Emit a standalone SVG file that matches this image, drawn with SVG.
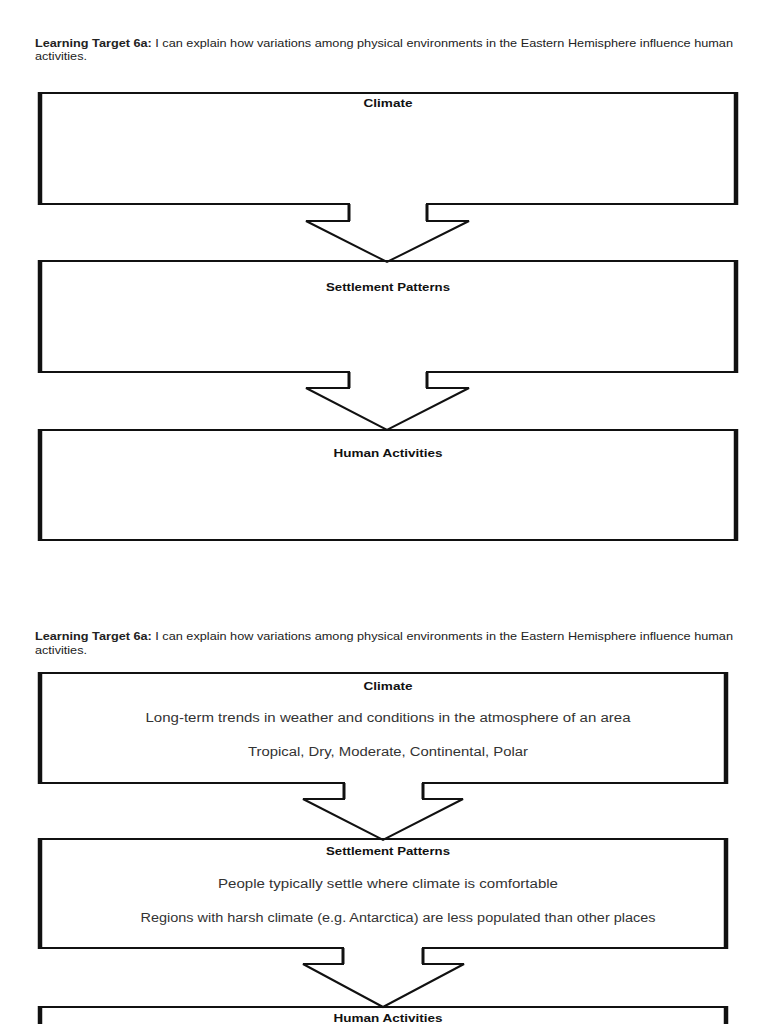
<svg xmlns="http://www.w3.org/2000/svg" width="768" height="1024" viewBox="0 0 768 1024">
<style>
text{font-family:"Liberation Sans",Arial,sans-serif;fill:#222}
.hdr{font-size:11px}
.b{font-weight:bold}
.title{font-size:11.5px;font-weight:bold;text-anchor:middle;fill:#111}
.body{font-size:12.5px;text-anchor:middle;fill:#333}
.box{fill:#fff;stroke:#111;stroke-width:2}
.side{stroke:#111;stroke-width:4.5}
.arr{fill:none;stroke:#111;stroke-width:2;stroke-linejoin:miter}
.notch{stroke:#111;stroke-width:3}
.gap{fill:#fff}
</style>
<rect width="768" height="1024" fill="#fff"/>

<!-- Top worksheet -->
<text class="hdr" x="35" y="47" textLength="698" lengthAdjust="spacingAndGlyphs"><tspan class="b">Learning Target 6a:</tspan> I can explain how variations among physical environments in the Eastern Hemisphere influence human</text>
<text class="hdr" x="35" y="60" textLength="52" lengthAdjust="spacingAndGlyphs">activities.</text>

<g id="climate1">
<rect class="box" x="39" y="93" width="698" height="111"/>
<line class="side" x1="40" y1="92" x2="40" y2="205"/>
<line class="side" x1="736" y1="92" x2="736" y2="205"/>
<text class="title" x="388" y="107" textLength="49" lengthAdjust="spacingAndGlyphs">Climate</text>
</g>
<g id="settlement1">
<rect class="box" x="39" y="261" width="698" height="111"/>
<line class="side" x1="40" y1="260" x2="40" y2="373"/>
<line class="side" x1="736" y1="260" x2="736" y2="373"/>
<text class="title" x="388" y="291" textLength="124" lengthAdjust="spacingAndGlyphs">Settlement Patterns</text>
</g>
<g id="human1">
<rect class="box" x="39" y="430" width="698" height="110"/>
<line class="side" x1="40" y1="429" x2="40" y2="541"/>
<line class="side" x1="736" y1="429" x2="736" y2="541"/>
<text class="title" x="388" y="457" textLength="109" lengthAdjust="spacingAndGlyphs">Human Activities</text>
</g>

<!-- Bottom worksheet -->
<text class="hdr" x="35" y="640" textLength="698" lengthAdjust="spacingAndGlyphs"><tspan class="b">Learning Target 6a:</tspan> I can explain how variations among physical environments in the Eastern Hemisphere influence human</text>
<text class="hdr" x="35" y="654" textLength="52" lengthAdjust="spacingAndGlyphs">activities.</text>

<g id="climate2">
<rect class="box" x="39" y="673" width="688" height="110"/>
<line class="side" x1="40" y1="672" x2="40" y2="784"/>
<line class="side" x1="726" y1="672" x2="726" y2="784"/>
<text class="title" x="388" y="690" textLength="49" lengthAdjust="spacingAndGlyphs">Climate</text>
<text class="body" x="388" y="722" textLength="485" lengthAdjust="spacingAndGlyphs">Long-term trends in weather and conditions in the atmosphere of an area</text>
<text class="body" x="388" y="756" textLength="280" lengthAdjust="spacingAndGlyphs">Tropical, Dry, Moderate, Continental, Polar</text>
</g>
<g id="settlement2">
<rect class="box" x="39" y="839" width="688" height="109"/>
<line class="side" x1="40" y1="838" x2="40" y2="949"/>
<line class="side" x1="726" y1="838" x2="726" y2="949"/>
<text class="title" x="388" y="855" textLength="124" lengthAdjust="spacingAndGlyphs">Settlement Patterns</text>
<text class="body" x="388" y="888" textLength="340" lengthAdjust="spacingAndGlyphs">People typically settle where climate is comfortable</text>
<text class="body" x="398" y="922" textLength="515" lengthAdjust="spacingAndGlyphs">Regions with harsh climate (e.g. Antarctica) are less populated than other places</text>
</g>
<g id="human2">
<rect class="box" x="39" y="1007" width="688" height="40"/>
<line class="side" x1="40" y1="1006" x2="40" y2="1030"/>
<line class="side" x1="726" y1="1006" x2="726" y2="1030"/>
<text class="title" x="388" y="1022" textLength="109" lengthAdjust="spacingAndGlyphs">Human Activities</text>
</g>

<g id="connectors">
<!-- top arrow 1 -->
<rect class="gap" x="350" y="201" width="76" height="8"/>
<path class="arr" d="M349,204 V221 H306 L387,262 L469,221 H427 V204"/>
<line class="notch" x1="349" y1="204" x2="349" y2="221"/>
<line class="notch" x1="427" y1="204" x2="427" y2="221"/>
<!-- top arrow 2 -->
<rect class="gap" x="350" y="369" width="76" height="8"/>
<path class="arr" d="M349,372 V388 H306 L387,430 L469,388 H427 V372"/>
<line class="notch" x1="349" y1="372" x2="349" y2="388"/>
<line class="notch" x1="427" y1="372" x2="427" y2="388"/>
<!-- bottom arrow 1 -->
<rect class="gap" x="345" y="780" width="77" height="8"/>
<path class="arr" d="M344,783 V799 H303 L383,840 L463,799 H423 V783"/>
<line class="notch" x1="344" y1="783" x2="344" y2="799"/>
<line class="notch" x1="423" y1="783" x2="423" y2="799"/>
<!-- bottom arrow 2 -->
<rect class="gap" x="344" y="945" width="78" height="8"/>
<path class="arr" d="M343,948 V964 H303 L383,1007 L464,964 H423 V948"/>
<line class="notch" x1="343" y1="948" x2="343" y2="964"/>
<line class="notch" x1="423" y1="948" x2="423" y2="964"/>
</g>
</svg>
